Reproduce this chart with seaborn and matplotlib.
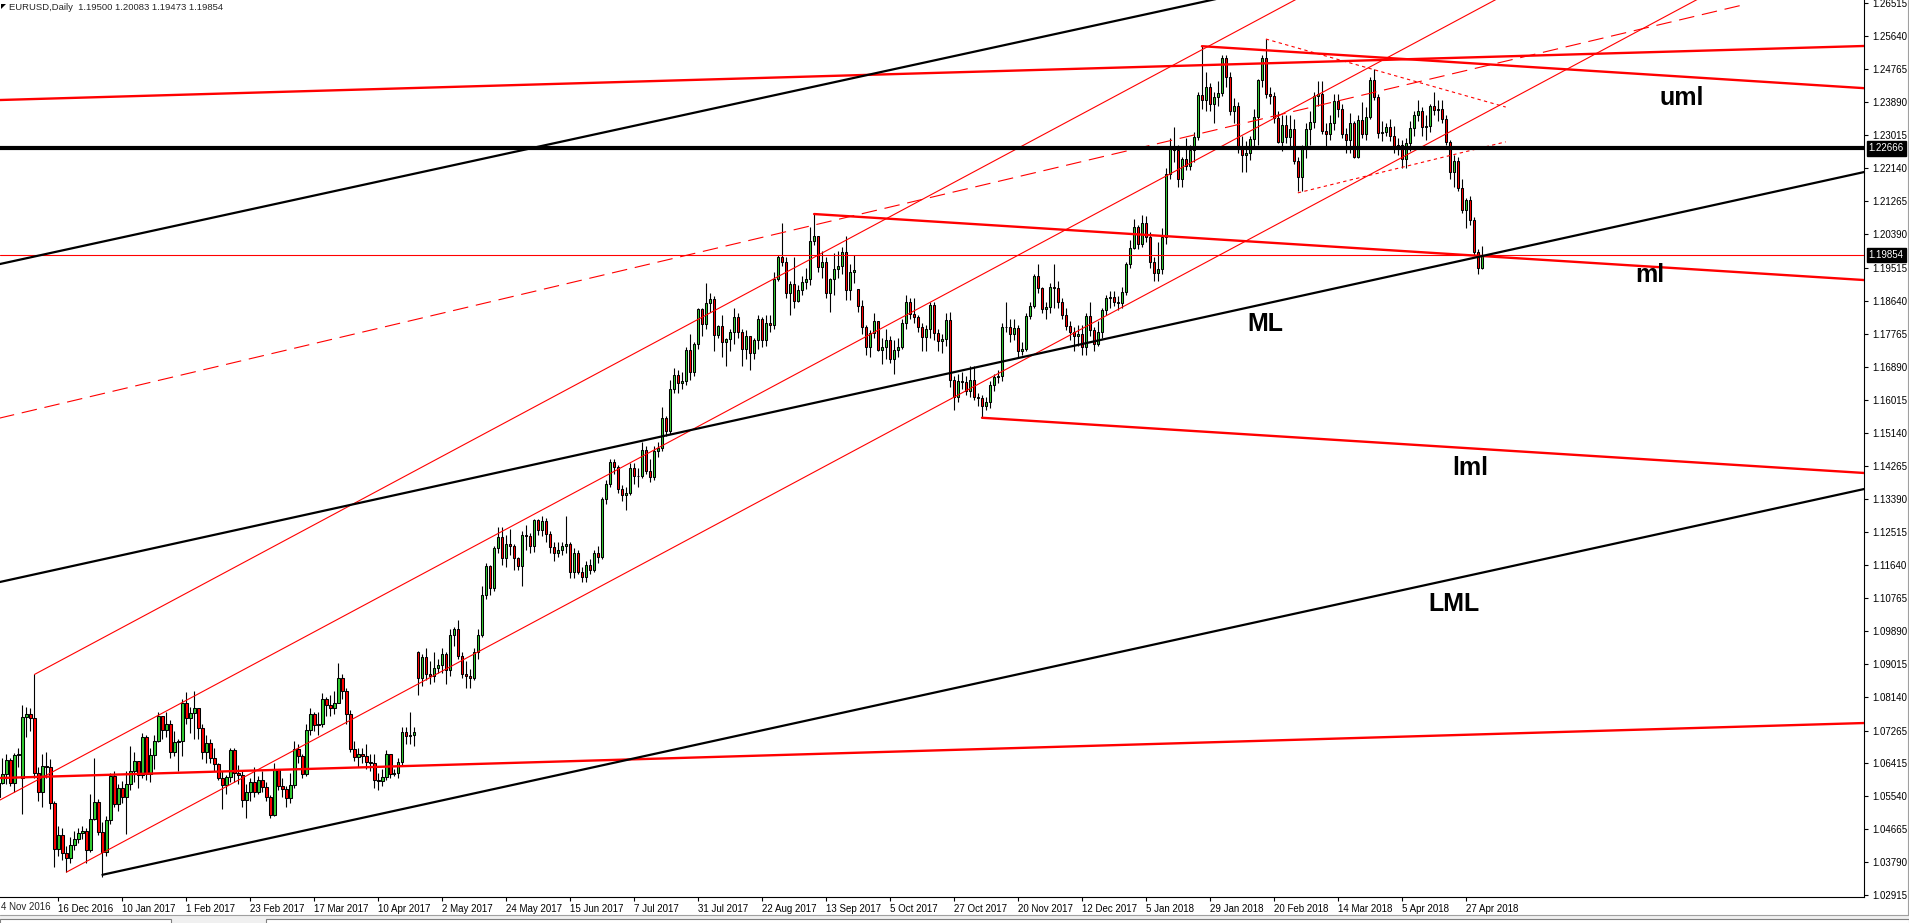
#!/usr/bin/env python
# coding: utf-8

import numpy as np
import matplotlib
matplotlib.use("Agg")
import matplotlib.pyplot as plt
import matplotlib.transforms as mtransforms
from matplotlib.patches import Rectangle, Polygon
import seaborn as sns

# ---- data -------------------------------------------------------------
symbol = "EURUSD,Daily"
last_ohlc = [1.19500, 1.20083, 1.19473, 1.19854]
level_line = 1.22666

# daily bars from 24 Nov 2016 to 3 May 2018, prices in pips (x 10000)
first_open = 10545
gap_opens = {7: 10600, 106: 10935, 216: 11895}

closes = [
    10550, 10588, 10612, 10648, 10588,
    10663, 10665, 10763, 10770, 10760, 10615, 10563, 10632, 10630, 10535, 10413, 10449, 10403, 10390, 10425, 10440, 10455, 10460, 10410, 10493, 10537,
    10458, 10405, 10490, 10607, 10533, 10574, 10552, 10585, 10620, 10645, 10610, 10710, 10612, 10661, 10700, 10765, 10729, 10745, 10670, 10695, 10700, 10800,
    10760, 10772, 10785, 10734, 10671, 10693, 10654, 10637, 10600, 10582, 10604, 10675, 10615, 10610, 10542, 10565, 10590, 10565, 10596, 10578,
    10551, 10504, 10625, 10580, 10572, 10548, 10582, 10679, 10660, 10612, 10727, 10770, 10740, 10745, 10810, 10795, 10785, 10800, 10865, 10830, 10770, 10679, 10657,
    10665, 10660, 10643, 10640, 10596, 10593, 10604, 10664, 10612, 10614, 10643, 10722, 10712, 10716, 10724, 10865, 10920, 10875, 10870, 10893,
    10900, 10928, 10888, 10980, 10995, 10925, 10875, 10870, 10865, 10935, 10980, 11085, 11162, 11104, 11210, 11239, 11183, 11220, 11215, 11183, 11162, 11244, 11240,
    11215, 11284, 11256, 11282, 11247, 11212, 11195, 11205, 11215, 11220, 11146, 11197, 11145, 11133, 11165, 11150, 11196, 11185, 11338, 11379, 11437, 11425,
    11366, 11349, 11355, 11420, 11399, 11400, 11469, 11413, 11398, 11466, 11475, 11553, 11518, 11630, 11666, 11645, 11650, 11733, 11674, 11750, 11842,
    11802, 11858, 11869, 11773, 11797, 11755, 11762, 11780, 11820, 11781, 11736, 11770, 11726, 11760, 11815, 11760, 11805, 11800, 11921, 11979, 11967, 11884, 11909,
    11862, 11893, 11913, 11920, 12022, 12034, 11953, 11966, 11885, 11920, 11948, 11955, 11993, 11893, 11940, 11946, 11849, 11794, 11742, 11777, 11810,
    11734, 11740, 11759, 11710, 11733, 11740, 11805, 11860, 11829, 11820, 11795, 11768, 11790, 11852, 11778, 11757, 11763, 11813, 11654, 11609, 11651, 11648,
    11625, 11655, 11609, 11605, 11585, 11596, 11640, 11663, 11665, 11795, 11795, 11775, 11792, 11730, 11735, 11823, 11850, 11929, 11897, 11842, 11846, 11900,
    11898, 11860, 11826, 11797, 11780, 11770, 11775, 11740, 11823, 11785, 11750, 11780, 11839, 11871, 11873, 11860, 11858, 11886, 11961, 12003,
    12059, 12014, 12069, 12032, 11966, 11937, 11947, 12032, 12199, 12265, 12262, 12186, 12238, 12220, 12263, 12297, 12408, 12395, 12429, 12384, 12403, 12413,
    12506, 12456, 12366, 12380, 12268, 12250, 12255, 12291, 12350, 12448, 12506, 12410, 12405, 12347, 12284, 12329, 12298, 12319, 12233, 12191,
    12268, 12318, 12336, 12405, 12410, 12313, 12305, 12335, 12392, 12370, 12305, 12290, 12335, 12244, 12342, 12305, 12350, 12448, 12403, 12307, 12310, 12322,
    12300, 12273, 12275, 12239, 12281, 12321, 12355, 12366, 12323, 12325, 12379, 12368, 12372, 12345, 12284, 12204, 12233, 12162, 12104, 12130, 12077,
    11993, 11950, 11985.4,
]

highs = [
    10573, 10600, 10655, 10665, 10655,
    10668, 10680, 10795, 10790, 10785, 10875, 10630, 10665, 10670, 10650, 10540, 10475, 10470, 10420, 10445, 10460, 10470, 10475, 10470, 10560, 10654,
    10545, 10485, 10500, 10615, 10620, 10585, 10592, 10620, 10685, 10670, 10640, 10720, 10715, 10680, 10715, 10775, 10760, 10775, 10755, 10725, 10705, 10810,
    10828, 10790, 10830, 10785, 10745, 10715, 10705, 10680, 10640, 10620, 10610, 10680, 10680, 10635, 10620, 10585, 10600, 10630, 10605, 10620,
    10590, 10555, 10640, 10625, 10600, 10580, 10615, 10700, 10690, 10665, 10745, 10785, 10775, 10775, 10825, 10815, 10820, 10830, 10906, 10875, 10840, 10780, 10700,
    10680, 10680, 10690, 10665, 10665, 10615, 10625, 10675, 10665, 10625, 10655, 10735, 10735, 10775, 10735, 10937, 10930, 10945, 10910, 10935,
    10915, 10945, 10935, 10995, 11000, 11020, 10935, 10910, 10890, 10945, 10995, 11110, 11170, 11165, 11215, 11265, 11265, 11245, 11260, 11220, 11185, 11255, 11270,
    11250, 11285, 11285, 11295, 11290, 11255, 11225, 11225, 11225, 11295, 11225, 11210, 11205, 11160, 11175, 11180, 11205, 11215, 11345, 11390, 11445, 11445,
    11430, 11375, 11370, 11435, 11435, 11420, 11490, 11480, 11445, 11480, 11490, 11583, 11560, 11655, 11685, 11680, 11675, 11740, 11775, 11755, 11845,
    11845, 11910, 11885, 11875, 11800, 11825, 11765, 11790, 11845, 11830, 11790, 11785, 11770, 11765, 11825, 11820, 11825, 11825, 11940, 11985, 12070, 11980, 11915,
    11980, 11905, 11930, 11950, 12060, 12092, 12030, 11995, 11980, 11925, 11990, 11995, 12005, 12035, 11960, 11985, 11895, 11865, 11800, 11785, 11830,
    11800, 11765, 11790, 11770, 11760, 11765, 11815, 11880, 11870, 11870, 11825, 11805, 11800, 11860, 11860, 11790, 11775, 11830, 11835, 11665, 11670, 11675,
    11665, 11690, 11690, 11620, 11615, 11610, 11650, 11670, 11680, 11805, 11861, 11815, 11815, 11800, 11755, 11830, 11860, 11935, 11960, 11900, 11860, 11910,
    11961, 11915, 11870, 11845, 11810, 11795, 11800, 11800, 11830, 11860, 11795, 11810, 11845, 11880, 11890, 11890, 11875, 11900, 11965, 12025,
    12080, 12065, 12090, 12088, 12045, 11980, 12020, 12055, 12215, 12295, 12323, 12275, 12245, 12295, 12275, 12310, 12415, 12537, 12470, 12440, 12415, 12445,
    12515, 12515, 12470, 12400, 12390, 12300, 12285, 12300, 12370, 12450, 12515, 12556, 12430, 12415, 12365, 12355, 12355, 12355, 12345, 12245,
    12275, 12335, 12365, 12415, 12445, 12445, 12335, 12355, 12410, 12410, 12385, 12320, 12360, 12340, 12355, 12390, 12375, 12455, 12477, 12410, 12340, 12335,
    12345, 12325, 12295, 12290, 12295, 12340, 12365, 12395, 12375, 12355, 12385, 12415, 12395, 12395, 12355, 12290, 12250, 12245, 12185, 12135, 12140,
    12085, 12000, 12008.3,
]

lows = [
    10540, 10540, 10585, 10585, 10580,
    10565, 10630, 10505, 10710, 10725, 10600, 10540, 10525, 10600, 10520, 10365, 10395, 10385, 10352, 10375, 10410, 10430, 10440, 10375, 10405, 10490,
    10450, 10340, 10395, 10480, 10523, 10515, 10535, 10454, 10570, 10590, 10575, 10600, 10595, 10590, 10625, 10695, 10705, 10710, 10655, 10660, 10620, 10660,
    10745, 10720, 10705, 10705, 10650, 10640, 10640, 10620, 10595, 10520, 10560, 10590, 10590, 10585, 10525, 10495, 10540, 10550, 10560, 10565,
    10540, 10495, 10500, 10570, 10550, 10525, 10535, 10575, 10640, 10600, 10605, 10715, 10725, 10715, 10735, 10765, 10765, 10770, 10800, 10810, 10745, 10670, 10645,
    10630, 10640, 10625, 10620, 10575, 10570, 10580, 10595, 10600, 10605, 10600, 10635, 10690, 10690, 10685, 10820, 10845, 10860, 10850, 10855,
    10880, 10880, 10850, 10870, 10950, 10915, 10865, 10840, 10840, 10860, 10915, 10975, 11075, 11085, 11095, 11195, 11165, 11160, 11190, 11150, 11150, 11110, 11205,
    11195, 11200, 11245, 11240, 11225, 11195, 11175, 11185, 11190, 11195, 11130, 11130, 11140, 11120, 11120, 11140, 11145, 11170, 11180, 11325, 11370, 11405,
    11355, 11335, 11310, 11350, 11380, 11370, 11395, 11405, 11385, 11390, 11450, 11465, 11505, 11510, 11620, 11620, 11630, 11640, 11655, 11665, 11735,
    11770, 11790, 11835, 11730, 11765, 11715, 11690, 11730, 11750, 11765, 11690, 11710, 11680, 11710, 11735, 11740, 11745, 11780, 11790, 11915, 11955, 11870, 11825,
    11845, 11860, 11880, 11895, 11905, 12010, 11940, 11925, 11870, 11835, 11880, 11925, 11935, 11865, 11865, 11910, 11835, 11775, 11720, 11715, 11765,
    11730, 11695, 11710, 11700, 11670, 11715, 11735, 11790, 11815, 11805, 11780, 11730, 11730, 11765, 11760, 11730, 11725, 11745, 11635, 11575, 11595, 11630,
    11615, 11610, 11600, 11585, 11554, 11575, 11580, 11625, 11645, 11650, 11780, 11755, 11760, 11715, 11720, 11730, 11815, 11845, 11885, 11830, 11815, 11830,
    11845, 11845, 11815, 11785, 11760, 11730, 11745, 11720, 11720, 11770, 11730, 11745, 11765, 11825, 11845, 11850, 11840, 11845, 11880, 11950,
    12000, 12000, 12005, 12020, 11950, 11915, 11915, 11935, 12015, 12185, 12230, 12165, 12165, 12210, 12210, 12230, 12290, 12370, 12365, 12365, 12335, 12380,
    12405, 12430, 12355, 12335, 12255, 12205, 12205, 12235, 12270, 12275, 12430, 12400, 12385, 12335, 12280, 12260, 12280, 12270, 12225, 12155,
    12155, 12240, 12275, 12320, 12380, 12305, 12270, 12290, 12315, 12350, 12295, 12255, 12255, 12240, 12240, 12295, 12290, 12345, 12395, 12295, 12285, 12300,
    12285, 12255, 12250, 12215, 12215, 12260, 12300, 12340, 12300, 12290, 12310, 12355, 12340, 12335, 12275, 12185, 12165, 12155, 12095, 12055, 12065,
    11985, 11935, 11947.3,
]

# time axis labels, one every 16 bars starting at bar 16
first_label = "4 Nov 2016"
date_labels = ["16 Dec 2016", "10 Jan 2017", "1 Feb 2017", "23 Feb 2017", "17 Mar 2017",
               "10 Apr 2017", "2 May 2017", "24 May 2017", "15 Jun 2017", "7 Jul 2017",
               "31 Jul 2017", "22 Aug 2017", "13 Sep 2017", "5 Oct 2017", "27 Oct 2017",
               "20 Nov 2017", "12 Dec 2017", "5 Jan 2018", "29 Jan 2018", "20 Feb 2018",
               "14 Mar 2018", "5 Apr 2018", "27 Apr 2018"]

# price scale labels as printed by the terminal
price_labels = ["1.02915", "1.03790", "1.04665", "1.05540", "1.06415", "1.07265",
                "1.08140", "1.09015", "1.09890", "1.10765", "1.11640", "1.12515",
                "1.13390", "1.14265", "1.15140", "1.16015", "1.16890", "1.17765",
                "1.18640", "1.19515", "1.20390", "1.21265", "1.22140", "1.23015",
                "1.23890", "1.24765", "1.25640", "1.26515"]

# drawn objects: (bar, price) end points
black_lines = {
    "upper_fork": [(-5, 1.19461), (320, 1.26952)],
    "ML": [(-5, 1.11048), (470, 1.22096)],
    "LML": [(27, 1.03450), (470, 1.13710)],
}
red_thick_lines = {
    "top_channel": [(-5, 1.23927), (470, 1.25383)],
    "uml": [(302, 1.25370), (470, 1.24244)],
    "ml": [(205, 1.20930), (470, 1.19168)],
    "lml": [(247, 1.15540), (470, 1.14064)],
    "bottom_channel": [(-5, 1.05990), (470, 1.07472)],
}
red_thin_lines = {
    "up_channel_top": [(10, 1.08750), (330, 1.26860)],
    "up_channel_mid": [(-5, 1.05067), (380, 1.26857)],
    "up_channel_low": [(18, 1.03520), (430, 1.26839)],
}
red_dashed_lines = {
    "long_dash": [(-5, 1.15374), (436.8, 1.26449)],
}
red_dotted_lines = {
    "wedge_top": [(318, 1.25560), (378, 1.23760)],
    "wedge_low": [(326, 1.21490), (378, 1.22840)],
}
line_labels = [("uml", 422, 1.23815), ("ml", 414, 1.19132), ("ML", 318, 1.17836),
               ("lml", 369, 1.14026), ("LML", 365, 1.10428)]

# ---- layout -----------------------------------------------------------
W, H = 1909, 923
AX_RIGHT, AX_BOTTOM = 1864, 897
BAR_PX, BAR_OFF = 3.998, -5.5
PX_PER_PRICE, Y_BASE = 3780.0, 1.02915

sns.set_style("white")
plt.rcParams['font.family'] = ['Liberation Sans', 'DejaVu Sans']

fig = plt.figure(figsize=(W / 100, H / 100), dpi=100)
ax = fig.add_axes([0, 1 - AX_BOTTOM / H, AX_RIGHT / W, AX_BOTTOM / H])

# candles
idx = np.arange(len(closes))
c = np.array(closes, dtype=float) / 1e4
o = np.r_[first_open, closes[:-1]].astype(float) / 1e4
for k, v in gap_opens.items():
    o[k] = v / 1e4
hi = np.maximum(np.array(highs, dtype=float) / 1e4, np.maximum(o, c))
lo = np.minimum(np.array(lows, dtype=float) / 1e4, np.minimum(o, c))
up = c >= o

ax.vlines(idx, lo, hi, color="black", lw=0.8, zorder=2)
ax.bar(idx[up], (c - o)[up], bottom=o[up], width=0.6, color="#32CD32",
       edgecolor="black", linewidth=0.75, zorder=3)
ax.bar(idx[~up], (o - c)[~up], bottom=c[~up], width=0.6, color="#FF0000",
       edgecolor="black", linewidth=0.75, zorder=3)


def draw_lines(lines, **kw):
    for name, pts in lines.items():
        xs = [p[0] for p in pts]
        ys = [p[1] for p in pts]
        sns.lineplot(x=xs, y=ys, ax=ax, legend=False, **kw)


draw_lines(red_thin_lines, color="#FF0000", lw=0.8, zorder=4)
draw_lines(red_dashed_lines, color="#FF0000", lw=0.8, linestyle=(0, (14, 7)), zorder=4)
draw_lines(red_dotted_lines, color="#FF0000", lw=0.8, linestyle=(0, (3, 3)), zorder=4)
draw_lines(red_thick_lines, color="#FF0000", lw=1.7, zorder=5)
draw_lines(black_lines, color="black", lw=1.6, zorder=5)

ax.axhline(last_ohlc[3], color="#FF0000", lw=0.8, zorder=4)
ax.axhline(level_line, color="black", lw=3.0, zorder=6)

for txt, bx, py in line_labels:
    ax.text(bx, py, txt, fontsize=18, fontweight="bold", color="black",
            ha="center", va="baseline", zorder=7)

# axes range in bars / prices
ax.set_xlim((0 - BAR_OFF) / BAR_PX, (AX_RIGHT - BAR_OFF) / BAR_PX)
ax.set_ylim(Y_BASE - (AX_BOTTOM - 895) / PX_PER_PRICE, Y_BASE + 895 / PX_PER_PRICE)

# price scale on the right
ax.yaxis.tick_right()
ax.set_yticks([float(s) for s in price_labels])
ax.set_yticklabels(price_labels)
ax.tick_params(axis="y", which="both", right=True, left=False, direction="out",
               length=3, width=0.8, pad=3, labelsize=7, colors="black")

# time scale
ax.set_xticks([16 * (k + 1) for k in range(len(date_labels))])
ax.set_xticklabels(date_labels, ha="left")
ax.tick_params(axis="x", direction="out", length=3, width=0.8, pad=2,
               labelsize=7, colors="black", bottom=True)

for side in ["top", "left"]:
    ax.spines[side].set_visible(False)
for side in ["right", "bottom"]:
    ax.spines[side].set_color("black")
    ax.spines[side].set_linewidth(0.8)
ax.grid(False)

# highlighted price labels
blend = mtransforms.blended_transform_factory(ax.transAxes, ax.transData)
for val in [level_line, last_ohlc[3]]:
    ax.text(1.0025, val, "%.5f" % val, transform=blend, fontsize=7, color="white",
            ha="left", va="center", zorder=10, clip_on=False,
            bbox=dict(boxstyle="square,pad=0.22", fc="black", ec="black"))

# first time label, shown clipped by the chart edge in the terminal
fig.text(1 / W, 1 - 907 / H, first_label, fontsize=7, ha="left", va="center")

# header
fig.text(9 / W, 1 - 7 / H, "%s  %s" % (symbol, " ".join("%.5f" % v for v in last_ohlc)),
         fontsize=6.8, ha="left", va="center")
fig.patches.append(Polygon([[1 / W, 1 - 4 / H], [6 / W, 1 - 4 / H], [1 / W, 1 - 9 / H]],
                           closed=True, transform=fig.transFigure, fc="black", ec="none"))

# bottom tab strip and right border
fig.patches.append(Rectangle((0, 0), 1, 8 / H, transform=fig.transFigure,
                             fc="#F0F0F0", ec="none", zorder=0))
fig.lines.append(plt.Line2D([0, 1], [8 / H, 8 / H], transform=fig.transFigure,
                            color="#A0A0A0", lw=0.8))
for x0, x1 in [(0, 171), (266, 1909)]:
    fig.patches.append(Rectangle((x0 / W, -2 / H), (x1 - x0) / W, 6 / H,
                                 transform=fig.transFigure, fc="white",
                                 ec="#808080", lw=0.8))
fig.lines.append(plt.Line2D([1907.5 / W, 1907.5 / W], [8 / H, 1], transform=fig.transFigure,
                            color="#A0A0A0", lw=0.8))

fig.savefig("out.png", dpi=100)
